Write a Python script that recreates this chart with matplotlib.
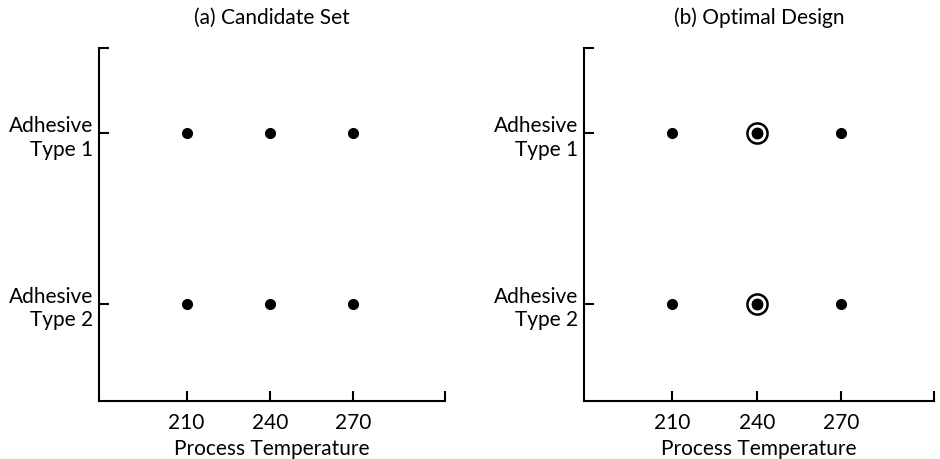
import matplotlib
matplotlib.use("Agg")
import matplotlib.pyplot as plt
import numpy as np

plt.rcParams['font.family'] = ['Lato', 'DejaVu Sans']

# candidate set: every temperature x every adhesive type
temps = [210, 240, 270]
adhesive_pos = [1, 2]
adhesive_labels = ['Adhesive\nType 1', 'Adhesive\nType 2']

# optimal design: points that get circled in panel (b)
opt_temps = [240, 240]
opt_adhesive = [1, 2]

titles = ['(a) Candidate Set', '(b) Optimal Design']
xlabel = 'Process Temperature'

xlim = (178.5, 303)
ylim = (2.57, 0.5)

fig = plt.figure(figsize=(9.4, 4.6), dpi=100)
axes = [fig.add_axes([0.1053, 0.126, 0.368, 0.767]),
        fig.add_axes([0.6213, 0.126, 0.372, 0.767])]

for k, ax in enumerate(axes):
    gx, gy = np.meshgrid(temps, adhesive_pos)
    ax.plot(gx.ravel(), gy.ravel(), 'o', color='black', ms=7, mec='black')
    if k == 1:
        ax.plot(opt_temps, opt_adhesive, 'o', ms=14.5, mfc='none', mec='black', mew=1.8)
        ax.plot(opt_temps, opt_adhesive, 'o', ms=7.5, color='black')

    ax.set_xlim(*xlim)
    ax.set_ylim(*ylim)
    for s in ['top', 'right']:
        ax.spines[s].set_visible(False)
    for s in ['left', 'bottom']:
        ax.spines[s].set_linewidth(1.5)

    # end marks at the far ends of the axes are drawn as blank ticks
    ax.set_xticks(temps + [xlim[1]])
    ax.set_xticklabels([str(t) for t in temps] + [''])
    ax.set_yticks([ylim[1]] + adhesive_pos)
    ax.set_yticklabels([''] + adhesive_labels)
    ax.tick_params(direction='in', length=7.5, width=1.5, labelsize=15, pad=4)
    ax.tick_params(axis='x', pad=8)

    ax.set_xlabel(xlabel, fontsize=15, labelpad=4)
    ax.set_title(titles[k], fontsize=15, pad=18)

fig.savefig('out.png', dpi=100)
